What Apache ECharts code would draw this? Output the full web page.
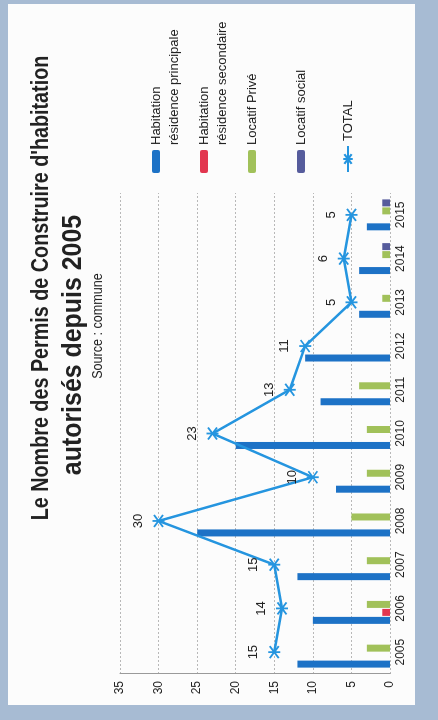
<!DOCTYPE html>
<html><head><meta charset="utf-8">
<script src="https://cdn.jsdelivr.net/npm/echarts@6/dist/echarts.min.js"></script>
<style>
html,body{margin:0;padding:0;width:438px;height:720px;overflow:hidden;background:#a7bbd3;}
#paper{position:absolute;left:8px;top:4px;width:407px;height:701px;background:#fcfcfc;}
#chart{position:absolute;left:0;top:0;width:720px;height:438px;transform-origin:0 0;transform:translate(0,720px) rotate(-90deg);}
</style></head><body>
<div id="paper"></div>
<div id="chart"></div>
<script>
const years = ['2005','2006','2007','2008','2009','2010','2011','2012','2013','2014','2015'];
const principale = [12,10,12,25,7,20,9,11,4,4,3];
const secondaire = [0,1,0,0,0,0,0,0,0,0,0];
const locatifPrive = [3,3,3,5,3,3,4,0,1,1,1];
const locatifSocial = [0,0,0,0,0,0,0,0,0,1,1];
const total = [15,14,15,30,10,23,13,11,5,6,5];
const seriesNames = ['Habitation résidence principale','Habitation résidence secondaire','Locatif Privé','Locatif social','TOTAL'];
const legendLabels = ['\nHabitation\nrésidence principale','\nHabitation\nrésidence secondaire','Locatif Privé','Locatif social','TOTAL'];
const titleLine1 = "Le Nombre des Permis de Construire d'habitation";
const titleLine2 = 'autorisés depuis 2005';
const sourceText = 'Source : commune';

const C_BLUE='#1d72c6', C_RED='#e2364f', C_GREEN='#a1c15a', C_PURPLE='#565c9c', C_LINE='#2595df';
const TXT='#222';
const sans = '"Liberation Sans",Arial,sans-serif';

const chart = echarts.init(document.getElementById('chart'), null, {renderer:'canvas'});
const star = 'path://M0,-6L0,6M-4.5,-4.5L4.5,4.5M-4.5,4.5L4.5,-4.5';

function legendItem(i, top, extra){
  return Object.assign({
    orient:'vertical', left:547, top:top, padding:0, itemWidth:23, itemHeight:8, itemGap:0,
    selectedMode:false,
    formatter: function(name){ return legendLabels[seriesNames.indexOf(name)]; },
    textStyle:{fontSize:13, color:TXT, fontFamily:sans, lineHeight:18},
    data:[seriesNames[i]]
  }, extra||{});
}

chart.setOption({
  animation:false,
  graphic:[
    {type:'text', x:432, y:41, scaleX:0.823, style:{text:titleLine1, font:'bold 24px '+sans, fill:TXT, textAlign:'center', textVerticalAlign:'middle'}},
    {type:'text', x:375, y:73, scaleX:0.89, style:{text:titleLine2, font:'bold 28px '+sans, fill:TXT, textAlign:'center', textVerticalAlign:'middle'}},
    {type:'text', x:394, y:98, scaleX:0.9, style:{text:sourceText, font:'14px '+sans, fill:TXT, textAlign:'center', textVerticalAlign:'middle'}}
  ],
  legend:[
    legendItem(0, 129),
    legendItem(1, 177),
    legendItem(2, 243),
    legendItem(3, 292),
    legendItem(4, 339, {itemWidth:26, itemHeight:12})
  ],
  grid:{left:46, right:193, top:120, bottom:48, containLabel:false},
  xAxis:{type:'category', data:years,
    axisLine:{show:false}, axisTick:{show:false},
    axisLabel:{fontSize:12, color:TXT, fontFamily:sans, margin:5}},
  yAxis:{type:'value', min:0, max:35, interval:5,
    axisLine:{show:true, lineStyle:{color:'#9a9a9a'}},
    axisTick:{show:false},
    axisLabel:{fontSize:12, color:TXT, fontFamily:sans, margin:7},
    splitLine:{show:true, lineStyle:{color:'#b8b8b8', type:[2,2]}}},
  series:[
    {name:seriesNames[0], type:'bar', data:principale, barWidth:7, barGap:'14%', itemStyle:{color:C_BLUE}},
    {name:seriesNames[1], type:'bar', data:secondaire, barWidth:7, barGap:'14%', itemStyle:{color:C_RED}},
    {name:seriesNames[2], type:'bar', data:locatifPrive, barWidth:7, barGap:'14%', itemStyle:{color:C_GREEN}},
    {name:seriesNames[3], type:'bar', data:locatifSocial, barWidth:7, barGap:'14%', itemStyle:{color:C_PURPLE}},
    {name:seriesNames[4], type:'line', data:total, z:5,
      symbol:star, symbolSize:12,
      lineStyle:{color:C_LINE, width:2.5},
      itemStyle:{color:C_LINE, borderColor:C_LINE, borderWidth:1.8},
      label:{show:true, position:'top', distance:7, fontSize:13, color:TXT, fontFamily:sans}}
  ]
});
</script>
</body></html>
